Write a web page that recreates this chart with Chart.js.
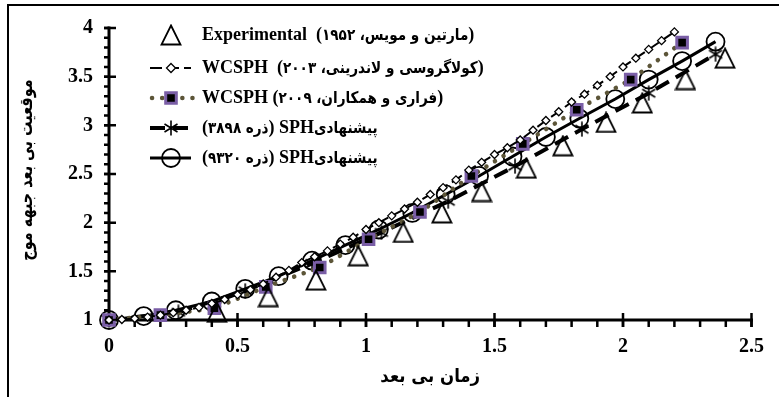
<!DOCTYPE html>
<html>
<head>
<meta charset="utf-8">
<script src="https://cdn.jsdelivr.net/npm/chart.js@4/dist/chart.umd.min.js"></script>
<style>
  html, body { margin: 0; padding: 0; background: #fff; }
  #wrap { width: 779px; height: 397px; position: relative; }
</style>
</head>
<body>
<div id="wrap"><canvas id="c" width="779" height="397"></canvas></div>
<script>
// Axis ticks
const xTicks = [0, 0.5, 1, 1.5, 2, 2.5];
const yTicks = [1, 1.5, 2, 2.5, 3, 3.5, 4];

// Martin & Moyce (1952) experiment
const expT = [0.42, 0.62, 0.805, 0.97, 1.145, 1.295, 1.45, 1.624, 1.766, 1.934, 2.075, 2.243, 2.397];
const expV = [1.08, 1.24, 1.41, 1.66, 1.90, 2.10, 2.32, 2.56, 2.79, 3.03, 3.23, 3.47, 3.69];

// Colagrossi & Landrini (2003), WCSPH
const colT = [0, 0.05, 0.1, 0.15, 0.2, 0.25, 0.3, 0.35, 0.4, 0.45, 0.5, 0.55, 0.6, 0.65, 0.7, 0.75, 0.8, 0.85, 0.9, 0.95,
              1.0, 1.05, 1.1, 1.15, 1.2, 1.25, 1.3, 1.35, 1.4, 1.45, 1.5, 1.55, 1.6, 1.65, 1.7, 1.75, 1.8, 1.85, 1.9, 1.95,
              2.0, 2.05, 2.1, 2.15, 2.2];
const colV = [1.0, 1.005, 1.015, 1.03, 1.05, 1.075, 1.10, 1.13, 1.17, 1.21, 1.26, 1.31, 1.37, 1.44, 1.51, 1.59, 1.65, 1.71, 1.78, 1.85,
              1.93, 2.0, 2.07, 2.14, 2.21, 2.29, 2.36, 2.44, 2.54, 2.62, 2.70, 2.77, 2.85, 2.95, 3.05, 3.14, 3.24, 3.32, 3.41, 3.50,
              3.60, 3.69, 3.78, 3.87, 3.96];

// Ferrari et al. (2009), WCSPH
const ferT = [0, 0.2, 0.41, 0.61, 0.82, 1.01, 1.21, 1.41, 1.61, 1.82, 2.03, 2.23];
const ferV = [1.0, 1.05, 1.12, 1.34, 1.54, 1.83, 2.11, 2.48, 2.81, 3.16, 3.47, 3.85];

// Proposed SPH, 3898 particles
const p3898T = [0, 0.27, 0.53, 0.79, 1.06, 1.32, 1.58, 1.84, 2.1, 2.36];
const p3898V = [1.0, 1.08, 1.30, 1.58, 1.90, 2.22, 2.58, 2.96, 3.33, 3.73];

// Proposed SPH, 9320 particles
const p9320T = [0, 0.135, 0.26, 0.4, 0.53, 0.66, 0.79, 0.92, 1.05, 1.18, 1.31, 1.44, 1.57, 1.70, 1.83, 1.97, 2.1, 2.23, 2.36];
const p9320V = [1.0, 1.04, 1.10, 1.19, 1.32, 1.45, 1.61, 1.77, 1.93, 2.10, 2.29, 2.48, 2.68, 2.88, 3.07, 3.27, 3.47, 3.66, 3.86];

// Legend entries, as visual pieces from left to right: [text, 'lat' | 'fa' (right-to-left run) | 'num' (Persian digits)]
const legendPieces = [
  [['Experimental  (', 'lat'], ['۱۹۵۲', 'num'], [' ', 'lat'], ['مارتین و مویس،', 'fa'], [')', 'lat']],
  [['WCSPH  (', 'lat'], ['۲۰۰۳', 'num'], [' ', 'lat'], ['کولاگروسی و لاندرینی،', 'fa'], [')', 'lat']],
  [['WCSPH (', 'lat'], ['۲۰۰۹', 'num'], [' ', 'lat'], ['فراری و همکاران،', 'fa'], [')', 'lat']],
  [['(', 'lat'], ['۳۸۹۸', 'num'], [' ', 'lat'], ['ذره', 'fa'], [') SPH', 'lat'], ['پیشنهادی', 'fa']],
  [['(', 'lat'], ['۹۳۲۰', 'num'], [' ', 'lat'], ['ذره', 'fa'], [') SPH', 'lat'], ['پیشنهادی', 'fa']]
];
const seriesNames = [
  'Experimental (مارتین و مویس، ۱۹۵۲)',
  'WCSPH (کولاگروسی و لاندرینی، ۲۰۰۳)',
  'WCSPH (فراری و همکاران، ۲۰۰۹)',
  'SPH پیشنهادی (۳۸۹۸ ذره)',
  'SPH پیشنهادی (۹۳۲۰ ذره)'
];
const xTitle = 'زمان بی بعد';
const yTitle = 'موقعیت بی بعد جبهه موج';

const LAT_FONT = "bold 18px 'Liberation Serif', serif";
const FA_FONT = "bold 16px 'DejaVu Sans', sans-serif";
const FA_SQUEEZE = 0.85;
const OLIVE = '#5c5538';
const PURPLE = '#7a5ea6';

const pts = (t, v) => t.map((x, i) => ({ x, y: v[i] }));

// open triangle marker
function triangleMarker() {
  const c = document.createElement('canvas');
  c.width = 22; c.height = 22;
  const g = c.getContext('2d');
  g.strokeStyle = '#000'; g.lineWidth = 1.8; g.lineJoin = 'miter';
  g.beginPath(); g.moveTo(11, 1.5); g.lineTo(20.5, 20.5); g.lineTo(1.5, 20.5); g.closePath(); g.stroke();
  return c;
}
// six-armed asterisk marker
function asteriskMarker() {
  const c = document.createElement('canvas');
  c.width = 16; c.height = 16;
  const g = c.getContext('2d');
  g.strokeStyle = '#000'; g.lineWidth = 1.6;
  g.beginPath();
  g.moveTo(8, 0.5); g.lineTo(8, 15.5);
  g.moveTo(1.5, 4); g.lineTo(14.5, 12);
  g.moveTo(14.5, 4); g.lineTo(1.5, 12);
  g.stroke();
  return c;
}
const triImg = triangleMarker();
const starImg = asteriskMarker();

// draws one legend text made of pieces, starting at x, centred on y
function drawPieces(ctx, pieces, x, y) {
  ctx.textBaseline = 'middle';
  ctx.textAlign = 'left';
  pieces.forEach(([txt, kind]) => {
    if (kind === 'lat') {
      ctx.font = LAT_FONT; ctx.direction = 'ltr';
      ctx.fillText(txt, x, y);
      x += ctx.measureText(txt).width;
    } else {
      ctx.font = FA_FONT; ctx.direction = kind === 'fa' ? 'rtl' : 'ltr';
      const w = ctx.measureText(txt).width;
      ctx.save();
      ctx.translate(x, y); ctx.scale(FA_SQUEEZE, 1);
      ctx.textAlign = kind === 'fa' ? 'right' : 'left';
      ctx.fillText(txt, kind === 'fa' ? w : 0, 1);
      ctx.restore();
      x += w * FA_SQUEEZE;
    }
  });
}

const frameAndAxes = {
  id: 'frameAndAxes',
  beforeDatasetsDraw(chart) {
    const { ctx, chartArea: a, scales: { x, y } } = chart;
    ctx.save();
    // outer frame
    ctx.strokeStyle = '#000'; ctx.lineWidth = 2;
    ctx.strokeRect(8, 5, 900, 600);
    // axis lines
    ctx.lineWidth = 3; ctx.lineCap = 'butt';
    ctx.beginPath();
    ctx.moveTo(a.left, a.top - 1.5); ctx.lineTo(a.left, a.bottom);
    ctx.moveTo(a.left - 1.5, a.bottom); ctx.lineTo(a.right + 1.5, a.bottom);
    ctx.stroke();
    // minor ticks every 0.1
    ctx.lineWidth = 2.5;
    ctx.beginPath();
    for (let i = 0; i <= 25; i++) {
      const px = x.getPixelForValue(i / 10);
      ctx.moveTo(px, a.bottom); ctx.lineTo(px, a.bottom + 7);
    }
    for (let i = 10; i <= 40; i++) {
      const py = y.getPixelForValue(i / 10);
      ctx.moveTo(a.left, py); ctx.lineTo(a.left - 5, py);
    }
    ctx.stroke();
    // major ticks crossing the axis
    ctx.beginPath();
    xTicks.forEach(v => {
      const px = x.getPixelForValue(v);
      ctx.moveTo(px, a.bottom - 7); ctx.lineTo(px, a.bottom + 7);
    });
    yTicks.forEach(v => {
      const py = y.getPixelForValue(v);
      ctx.moveTo(a.left - 5, py); ctx.lineTo(a.left + 7, py);
    });
    ctx.stroke();
    ctx.restore();
  },
  afterDraw(chart) {
    const { ctx, chartArea: a } = chart;
    ctx.save();
    ctx.fillStyle = '#000';
    // axis titles
    ctx.font = "bold 18px 'DejaVu Sans', sans-serif";
    ctx.direction = 'rtl';
    ctx.textAlign = 'center'; ctx.textBaseline = 'middle';
    ctx.save();
    ctx.translate((a.left + a.right) / 2, 377); ctx.scale(0.92, 1);
    ctx.fillText(xTitle, 0, 0);
    ctx.restore();
    ctx.translate(27, 170); ctx.rotate(-Math.PI / 2); ctx.scale(0.8, 1);
    ctx.fillText(yTitle, 0, 0);
    ctx.restore();

    // legend
    ctx.save();
    const rows = [35, 68, 98, 128, 158];
    const x0 = 150, x1 = 191, xm = 171, xt = 202;
    // row 1: triangle only
    ctx.drawImage(triImg, xm - 11, rows[0] - 11);
    // row 2: long dash + diamond
    ctx.strokeStyle = '#000'; ctx.lineWidth = 2; ctx.setLineDash([12, 5]);
    ctx.beginPath(); ctx.moveTo(x0, rows[1]); ctx.lineTo(x1, rows[1]); ctx.stroke();
    ctx.setLineDash([]);
    ctx.fillStyle = '#fff'; ctx.lineWidth = 1.3;
    ctx.beginPath(); ctx.moveTo(xm, rows[1] - 4.5); ctx.lineTo(xm + 4.5, rows[1]); ctx.lineTo(xm, rows[1] + 4.5); ctx.lineTo(xm - 4.5, rows[1]); ctx.closePath();
    ctx.fill(); ctx.stroke();
    // row 3: olive dots + purple-edged square
    ctx.strokeStyle = OLIVE; ctx.lineWidth = 4.5; ctx.lineCap = 'round'; ctx.setLineDash([0.1, 10]);
    ctx.beginPath(); ctx.moveTo(x0 + 2, rows[2]); ctx.lineTo(x1 + 3, rows[2]); ctx.stroke();
    ctx.setLineDash([]); ctx.lineCap = 'butt';
    ctx.fillStyle = '#000'; ctx.strokeStyle = PURPLE; ctx.lineWidth = 3;
    ctx.beginPath(); ctx.rect(xm - 5.3, rows[2] - 5.3, 10.6, 10.6); ctx.fill(); ctx.stroke();
    // row 4: thick dash + asterisk
    ctx.strokeStyle = '#000'; ctx.lineWidth = 4; ctx.setLineDash([15, 8]);
    ctx.beginPath(); ctx.moveTo(x0, rows[3]); ctx.lineTo(x1, rows[3]); ctx.stroke();
    ctx.setLineDash([]);
    ctx.drawImage(starImg, xm - 8, rows[3] - 8);
    // row 5: solid + open circle
    ctx.lineWidth = 3;
    ctx.beginPath(); ctx.moveTo(x0, rows[4]); ctx.lineTo(x1, rows[4]); ctx.stroke();
    ctx.lineWidth = 1.8;
    ctx.beginPath(); ctx.arc(xm, rows[4], 9, 0, Math.PI * 2); ctx.stroke();
    // texts
    ctx.fillStyle = '#000';
    legendPieces.forEach((p, i) => drawPieces(ctx, p, xt, rows[i]));
    ctx.restore();
  }
};

new Chart(document.getElementById('c'), {
  type: 'line',
  data: {
    datasets: [
      {
        label: seriesNames[0], data: pts(expT, expV), showLine: false,
        pointStyle: triImg, pointRadius: 10, borderColor: '#000', clip: false
      },
      {
        label: seriesNames[1], data: pts(colT, colV), borderColor: '#000', borderWidth: 2, borderDash: [12, 5],
        pointStyle: 'rectRot', pointRadius: 4, pointBackgroundColor: '#fff', pointBorderColor: '#000', pointBorderWidth: 1.3,
        tension: 0, clip: false
      },
      {
        label: seriesNames[2], data: pts(ferT, ferV), borderColor: OLIVE, borderWidth: 4.5, borderDash: [0.1, 10],
        borderCapStyle: 'round', pointStyle: 'rect', pointRadius: 7.5, pointBackgroundColor: '#000',
        pointBorderColor: PURPLE, pointBorderWidth: 3, tension: 0, clip: false
      },
      {
        label: seriesNames[3], data: pts(p3898T, p3898V), borderColor: '#000', borderWidth: 4, borderDash: [15, 8],
        pointStyle: starImg, pointRadius: 8, tension: 0, clip: false
      },
      {
        label: seriesNames[4], data: pts(p9320T, p9320V), borderColor: '#000', borderWidth: 3,
        pointStyle: 'circle', pointRadius: 9, pointBackgroundColor: 'rgba(0,0,0,0)', pointBorderColor: '#000',
        pointBorderWidth: 1.8, tension: 0, clip: false
      }
    ]
  },
  options: {
    responsive: false, animation: false, devicePixelRatio: 1,
    layout: { padding: { top: 19, right: 24, left: 0, bottom: 0 } },
    plugins: { legend: { display: false }, tooltip: { enabled: false } },
    scales: {
      x: {
        type: 'linear', min: 0, max: 2.5,
        afterFit(s) { s.height = 77; },
        afterBuildTicks(s) { s.ticks = xTicks.map(v => ({ value: v })); },
        grid: { display: false, drawTicks: false }, border: { display: false },
        ticks: { padding: 15, color: '#000', font: { family: "'Liberation Serif', serif", weight: 'bold', size: 20 }, callback: v => String(v) }
      },
      y: {
        type: 'linear', min: 1, max: 4,
        afterFit(s) { s.width = 109; },
        afterBuildTicks(s) { s.ticks = yTicks.map(v => ({ value: v })); },
        grid: { display: false, drawTicks: false }, border: { display: false },
        ticks: { padding: 16, color: '#000', font: { family: "'Liberation Serif', serif", weight: 'bold', size: 20 }, callback: v => String(v) }
      }
    }
  },
  plugins: [frameAndAxes]
});
</script>
</body>
</html>
